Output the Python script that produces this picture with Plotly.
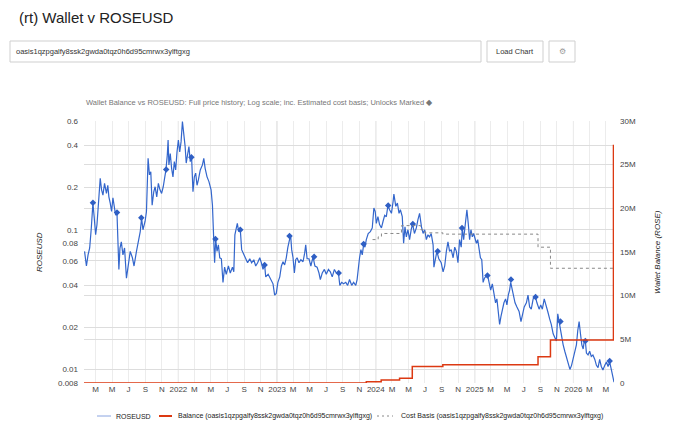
import math

import pandas as pd
import plotly.graph_objects as go

# ROSEUSD price (roughly every 5-7 days)
price_dates = [
    # 2021
    "2021-01-19", "2021-01-26", "2021-02-01", "2021-02-07", "2021-02-13", "2021-02-17", "2021-02-19", "2021-02-24", "2021-03-01", "2021-03-06",
    "2021-03-10", "2021-03-16", "2021-03-18", "2021-03-23", "2021-03-28", "2021-04-03", "2021-04-10", "2021-04-15", "2021-04-19", "2021-04-24",
    "2021-04-29", "2021-05-04", "2021-05-09", "2021-05-14", "2021-05-19", "2021-05-23", "2021-05-26", "2021-05-30", "2021-06-04", "2021-06-10",
    "2021-06-16", "2021-06-23", "2021-06-29", "2021-07-07", "2021-07-15", "2021-07-21", "2021-07-30", "2021-08-06", "2021-08-13", "2021-08-18",
    "2021-08-23", "2021-08-31", "2021-09-05", "2021-09-11", "2021-09-16", "2021-09-21", "2021-09-26", "2021-10-02", "2021-10-07", "2021-10-13",
    "2021-10-19", "2021-10-25", "2021-10-31", "2021-11-06", "2021-11-11", "2021-11-16", "2021-11-21", "2021-11-24", "2021-11-27", "2021-12-02",
    "2021-12-07", "2021-12-12", "2021-12-17", "2021-12-22", "2021-12-27",
    # 2022
    "2022-01-01", "2022-01-06", "2022-01-11", "2022-01-16", "2022-01-21", "2022-01-26", "2022-01-30", "2022-02-04", "2022-02-09", "2022-02-14",
    "2022-02-19", "2022-02-24", "2022-03-01", "2022-03-06", "2022-03-11", "2022-03-16", "2022-03-23", "2022-03-31", "2022-04-05", "2022-04-10",
    "2022-04-17", "2022-04-24", "2022-05-02", "2022-05-07", "2022-05-12", "2022-05-15", "2022-05-19", "2022-05-24", "2022-05-29", "2022-06-03",
    "2022-06-09", "2022-06-15", "2022-06-21", "2022-06-27", "2022-07-05", "2022-07-12", "2022-07-20", "2022-07-25", "2022-07-29", "2022-08-03",
    "2022-08-07", "2022-08-12", "2022-08-18", "2022-08-23", "2022-08-31", "2022-09-07", "2022-09-14", "2022-09-22", "2022-09-29", "2022-10-07",
    "2022-10-14", "2022-10-21", "2022-10-29", "2022-11-04", "2022-11-10", "2022-11-16", "2022-11-20", "2022-11-29", "2022-12-07", "2022-12-17",
    "2022-12-23", "2022-12-29",
    # 2023
    "2023-01-04", "2023-01-11", "2023-01-17", "2023-01-23", "2023-01-29", "2023-02-04", "2023-02-10", "2023-02-17", "2023-02-20", "2023-02-24",
    "2023-03-01", "2023-03-06", "2023-03-11", "2023-03-16", "2023-03-23", "2023-03-30", "2023-04-07", "2023-04-13", "2023-04-17", "2023-04-22",
    "2023-04-29", "2023-05-06", "2023-05-14", "2023-05-21", "2023-05-29", "2023-06-05", "2023-06-10", "2023-06-17", "2023-06-25", "2023-07-02",
    "2023-07-10", "2023-07-17", "2023-07-24", "2023-08-01", "2023-08-08", "2023-08-16", "2023-08-21", "2023-08-28", "2023-09-04", "2023-09-12",
    "2023-09-19", "2023-09-26", "2023-10-04", "2023-10-11", "2023-10-19", "2023-10-24", "2023-10-29", "2023-11-02", "2023-11-07", "2023-11-12",
    "2023-11-17", "2023-11-22", "2023-11-27", "2023-12-04", "2023-12-12", "2023-12-19", "2023-12-25", "2023-12-30",
    # 2024
    "2024-01-03", "2024-01-09", "2024-01-15", "2024-01-22", "2024-01-28", "2024-02-03", "2024-02-09", "2024-02-15", "2024-02-21", "2024-02-28",
    "2024-03-05", "2024-03-08", "2024-03-15", "2024-03-21", "2024-03-27", "2024-04-01", "2024-04-08", "2024-04-13", "2024-04-18", "2024-04-23",
    "2024-04-29", "2024-05-05", "2024-05-11", "2024-05-16", "2024-05-23", "2024-05-30", "2024-06-05", "2024-06-11", "2024-06-18", "2024-06-24",
    "2024-06-30", "2024-07-06", "2024-07-12", "2024-07-18", "2024-07-24", "2024-07-31", "2024-08-03", "2024-08-08", "2024-08-14", "2024-08-21",
    "2024-08-30", "2024-09-06", "2024-09-12", "2024-09-18", "2024-09-24", "2024-09-30", "2024-10-06", "2024-10-13", "2024-10-19", "2024-10-25",
    "2024-10-31", "2024-11-06", "2024-11-12", "2024-11-16", "2024-11-21", "2024-11-26", "2024-12-01", "2024-12-03", "2024-12-08", "2024-12-13",
    "2024-12-18", "2024-12-23", "2024-12-28",
    # 2025
    "2025-01-02", "2025-01-07", "2025-01-12", "2025-01-17", "2025-01-22", "2025-01-27", "2025-02-01", "2025-02-06", "2025-02-11", "2025-02-17",
    "2025-02-23", "2025-03-01", "2025-03-07", "2025-03-13", "2025-03-19", "2025-03-24", "2025-03-29", "2025-04-03", "2025-04-08", "2025-04-13",
    "2025-04-19", "2025-04-25", "2025-04-30", "2025-05-05", "2025-05-10", "2025-05-14", "2025-05-19", "2025-05-25", "2025-05-30", "2025-06-06",
    "2025-06-14", "2025-06-21", "2025-06-26", "2025-07-03", "2025-07-11", "2025-07-17", "2025-07-23", "2025-07-29", "2025-08-05", "2025-08-12",
    "2025-08-19", "2025-08-27", "2025-09-02", "2025-09-08", "2025-09-15", "2025-09-22", "2025-09-28", "2025-10-05", "2025-10-11", "2025-10-18",
    "2025-10-24", "2025-10-30", "2025-11-04", "2025-11-09", "2025-11-14", "2025-11-19", "2025-11-24", "2025-11-30", "2025-12-06", "2025-12-12",
    "2025-12-19", "2025-12-25", "2025-12-31",
    # 2026
    "2026-01-06", "2026-01-12", "2026-01-17", "2026-01-22", "2026-01-27", "2026-02-01", "2026-02-06", "2026-02-10", "2026-02-14", "2026-02-18",
    "2026-02-24", "2026-03-02", "2026-03-08", "2026-03-14", "2026-03-21", "2026-03-27", "2026-04-02", "2026-04-08", "2026-04-14", "2026-04-20",
    "2026-04-27", "2026-05-03", "2026-05-09", "2026-05-15", "2026-05-21", "2026-05-27", "2026-05-31",
]
price_usd = [
    # 2021
    0.070, 0.055, 0.066, 0.074, 0.103, 0.127, 0.155, 0.121, 0.092, 0.109,
    0.135, 0.187, 0.233, 0.193, 0.177, 0.215, 0.182, 0.208, 0.172, 0.155,
    0.135, 0.169, 0.150, 0.127, 0.131, 0.082, 0.052, 0.074, 0.082, 0.066,
    0.074, 0.045, 0.056, 0.070, 0.063, 0.055, 0.070, 0.082, 0.097, 0.121,
    0.100, 0.115, 0.135, 0.324, 0.247, 0.260, 0.150, 0.187, 0.203, 0.172,
    0.215, 0.193, 0.182, 0.203, 0.227, 0.268, 0.342, 0.439, 0.291, 0.351,
    0.275, 0.239, 0.307, 0.268, 0.361,
    # 2022
    0.439, 0.361, 0.427, 0.594, 0.490, 0.394, 0.300, 0.361, 0.394, 0.307,
    0.327, 0.187, 0.239, 0.254, 0.208, 0.227, 0.268, 0.291, 0.324, 0.275,
    0.239, 0.221, 0.193, 0.150, 0.087, 0.058, 0.085, 0.070, 0.078, 0.063,
    0.062, 0.042, 0.054, 0.048, 0.055, 0.049, 0.054, 0.050, 0.092, 0.103,
    0.111, 0.097, 0.100, 0.072, 0.066, 0.063, 0.058, 0.062, 0.058, 0.061,
    0.055, 0.058, 0.063, 0.058, 0.052, 0.056, 0.046, 0.048, 0.045, 0.041,
    0.034, 0.035,
    # 2023
    0.042, 0.046, 0.055, 0.059, 0.056, 0.063, 0.075, 0.085, 0.092, 0.072,
    0.063, 0.049, 0.061, 0.063, 0.058, 0.061, 0.059, 0.068, 0.078, 0.062,
    0.062, 0.055, 0.064, 0.055, 0.054, 0.049, 0.044, 0.049, 0.052, 0.048,
    0.052, 0.050, 0.046, 0.052, 0.049, 0.049, 0.040, 0.042, 0.041, 0.042,
    0.040, 0.044, 0.040, 0.042, 0.040, 0.044, 0.055, 0.063, 0.072, 0.066,
    0.078, 0.075, 0.085, 0.094, 0.097, 0.103, 0.143, 0.135,
    # 2024
    0.111, 0.124, 0.109, 0.103, 0.115, 0.127, 0.124, 0.149, 0.139, 0.131,
    0.159, 0.180, 0.147, 0.155, 0.131, 0.139, 0.124, 0.080, 0.105, 0.089,
    0.100, 0.085, 0.100, 0.110, 0.094, 0.103, 0.118, 0.131, 0.105, 0.094,
    0.100, 0.085, 0.092, 0.089, 0.094, 0.078, 0.054, 0.063, 0.070, 0.062,
    0.058, 0.050, 0.055, 0.070, 0.082, 0.070, 0.072, 0.063, 0.075, 0.070,
    0.058, 0.085, 0.075, 0.103, 0.085, 0.105, 0.124, 0.139, 0.111, 0.085,
    0.100, 0.089, 0.094,
    # 2025
    0.085, 0.080, 0.085, 0.072, 0.063, 0.061, 0.042, 0.045, 0.046, 0.048,
    0.042, 0.037, 0.041, 0.034, 0.030, 0.032, 0.027, 0.021, 0.024, 0.027,
    0.030, 0.032, 0.029, 0.034, 0.037, 0.042, 0.037, 0.034, 0.030, 0.028,
    0.026, 0.022, 0.025, 0.028, 0.030, 0.034, 0.028, 0.027, 0.032, 0.034,
    0.030, 0.027, 0.029, 0.027, 0.032, 0.029, 0.026, 0.023, 0.021, 0.018,
    0.017, 0.016, 0.025, 0.022, 0.019, 0.016, 0.015, 0.0135, 0.0124, 0.0110,
    0.0100, 0.0107, 0.0121,
    # 2026
    0.0131, 0.015, 0.019, 0.022, 0.018, 0.015, 0.014, 0.016, 0.016, 0.0131,
    0.0127, 0.0135, 0.0124, 0.0127, 0.0118, 0.0107, 0.0103, 0.0118, 0.0105, 0.0099,
    0.0107, 0.0113, 0.0105, 0.0113, 0.0100, 0.0090, 0.0081,
]
assert len(price_dates) == len(price_usd)

# unlock events marked on the price line
unlock_dates = [
    "2021-02-19", "2021-05-19", "2021-08-17", "2021-11-17", "2022-02-18", "2022-05-18",
    "2022-08-18", "2022-11-16", "2023-02-16", "2023-05-18", "2023-08-17", "2023-11-17",
    "2024-02-16", "2024-05-17", "2024-08-17", "2024-11-15", "2025-02-17", "2025-05-15",
    "2025-08-14", "2025-11-14", "2026-02-14", "2026-05-15",
]
unlock_price = [
    0.156, 0.133, 0.122, 0.270, 0.330, 0.086,
    0.100, 0.056, 0.090, 0.064, 0.049, 0.079,
    0.149, 0.110, 0.070, 0.103, 0.047, 0.044,
    0.033, 0.022, 0.016, 0.0115,
]

# wallet balance (ROSE), step changes
balance_dates = ["2021-01-17", "2023-11-27", "2024-01-21", "2024-03-29", "2024-05-15",
                 "2024-09-05", "2025-08-23", "2025-10-08", "2026-05-29", "2026-05-31"]
balance_rose = [0, 150000, 350000, 550000, 1880000,
                2100000, 3000000, 4930000, 27200000, 27200000]

# estimated cost basis (USD per ROSE)
cost_dates = ["2023-12-20", "2024-01-10", "2024-01-22", "2024-04-05", "2024-06-15",
              "2024-07-01", "2024-09-05", "2025-08-23", "2025-10-08", "2026-05-31"]
cost_usd = [0.085, 0.089, 0.094, 0.107, 0.100,
            0.095, 0.093, 0.075, 0.053, 0.053]

wallet = "oasis1qzpgalfy8ssk2gwda0tqz0h6d95cmrwx3ylftgxg"

left_ticks = [0.008, 0.01, 0.02, 0.04, 0.06, 0.08, 0.1, 0.2, 0.4, 0.6]
right_ticks = [0, 5e6, 10e6, 15e6, 20e6, 25e6, 30e6]
right_text = ["0", "5M", "10M", "15M", "20M", "25M", "30M"]

tick_dates = pd.date_range("2021-03-01", "2026-05-01", freq="2MS")
tick_text = [str(d.year) if d.month == 1 else d.strftime("%b")[0] for d in tick_dates]
year_starts = pd.date_range("2022-01-01", "2026-01-01", freq="YS")

BLUE, RED, GREY = "#3366cc", "#dc3912", "#888888"
FONT = "Liberation Sans, Arial, sans-serif"
W, H = 680, 442
PAGE = 8  # default body margin of the page plotly writes
# plot area as it appears on the screenshot
X0, X1, Y0, Y1 = 84, 614, 121, 383
PW, PH = X1 - X0, Y1 - Y0


def px(x):
    return (x - X0) / PW


def py(y):
    return (Y1 - y) / PH


fig = go.Figure()
fig.add_trace(go.Scatter(
    x=price_dates, y=price_usd, name="ROSEUSD", mode="lines",
    line=dict(color=BLUE, width=1.2), yaxis="y"))
fig.add_trace(go.Scatter(
    x=unlock_dates, y=unlock_price, mode="markers",
    marker=dict(symbol="diamond", size=5, color="#2f5fc4"), yaxis="y"))
fig.add_trace(go.Scatter(
    x=balance_dates, y=balance_rose, mode="lines",
    line=dict(color=RED, width=1.5, shape="hv"), yaxis="y2"))
fig.add_trace(go.Scatter(
    x=cost_dates, y=cost_usd, mode="lines",
    line=dict(color=GREY, width=1, dash="3px,3px", shape="hv"), yaxis="y"))

shapes = []
for d in year_starts:
    shapes.append(dict(type="line", xref="x", yref="paper", x0=d, x1=d, y0=0, y1=1,
                       line=dict(color="#cccccc", width=1), layer="between"))

# page chrome: address box and buttons
boxes = [(10, 41, 481, 62), (487, 41, 543, 62), (549, 41, 575, 62)]
for bx0, by0, bx1, by1 in boxes:
    shapes.append(dict(type="rect", xref="paper", yref="paper",
                       x0=px(bx0), x1=px(bx1), y0=py(by0), y1=py(by1),
                       line=dict(color="#cfcfcf", width=1), fillcolor="white"))

# legend drawn by hand so it stays on one row under the plot
legend_items = [
    ("ROSEUSD", "#8aa4e0", 1, "solid", 97, 111, 114),
    (f"Balance ({wallet})", RED, 2, "solid", 159, 172, 176),
    (f"Cost Basis ({wallet})", GREY, 1, "2px,3px", 377, 393, 399),
]
annotations = []
for label, colour, lw, dash, lx0, lx1, tx in legend_items:
    shapes.append(dict(type="line", xref="paper", yref="paper",
                       x0=px(lx0), x1=px(lx1), y0=py(416), y1=py(416),
                       line=dict(color=colour, width=lw, dash=dash)))
    annotations.append(dict(text=label, x=px(tx), y=py(416), xanchor="left", yanchor="middle",
                            font=dict(size=7, color="#222222")))

annotations += [
    dict(text="(rt) Wallet v ROSEUSD", x=px(17), y=py(18), xanchor="left", yanchor="middle",
         font=dict(size=15, color="#222222")),
    dict(text=wallet, x=px(14), y=py(51.5), xanchor="left", yanchor="middle",
         font=dict(size=7.5, color="#333333")),
    dict(text="Load Chart", x=px(515), y=py(51.5), xanchor="center", yanchor="middle",
         font=dict(size=7.5, color="#333333")),
    dict(text="⚙", x=px(562), y=py(51.5), xanchor="center", yanchor="middle",
         font=dict(size=8, color="#999999")),
    dict(text="Wallet Balance vs ROSEUSD: Full price history; Log scale; inc. Estimated cost basis; Unlocks Marked ◆",
         x=px(84), y=py(102), xanchor="left", yanchor="middle",
         font=dict(size=7.5, color="#777777")),
    dict(text="<i>ROSEUSD</i>", x=px(39), y=py(252), textangle=-90,
         xanchor="center", yanchor="middle", font=dict(size=8, color="#222222")),
    dict(text="<i>Wallet Balance (ROSE)</i>", x=px(657), y=py(252), textangle=-90,
         xanchor="center", yanchor="middle", font=dict(size=8, color="#222222")),
]
for a in annotations:
    a.update(xref="paper", yref="paper", showarrow=False)

fig.update_layout(
    width=W, height=H,
    margin=dict(l=X0 - PAGE, r=W - (X1 - PAGE), t=Y0 - PAGE, b=H - (Y1 - PAGE)),
    paper_bgcolor="white", plot_bgcolor="white",
    font=dict(family=FONT, size=8, color="#444444"),
    showlegend=False,
    shapes=shapes, annotations=annotations,
    xaxis=dict(type="date", range=["2021-01-17", "2026-05-31"],
               tickmode="array", tickvals=tick_dates, ticktext=tick_text,
               showgrid=True, gridcolor="#ececec", zeroline=False, showline=False,
               ticks="", tickfont=dict(size=8, color="#444444")),
    yaxis=dict(type="log", range=[math.log10(0.008), math.log10(0.6)],
               tickmode="array", tickvals=left_ticks, ticktext=[str(v) for v in left_ticks],
               showgrid=True, gridcolor="#dddddd", zeroline=False, showline=False,
               ticks="", ticklabelstandoff=5, tickfont=dict(size=8, color="#444444")),
    yaxis2=dict(overlaying="y", side="right", range=[0, 30e6],
                tickmode="array", tickvals=right_ticks, ticktext=right_text,
                showgrid=True, gridcolor="#dddddd", zeroline=False, showline=False,
                ticks="", ticklabelstandoff=5, tickfont=dict(size=8, color="#444444")),
)

fig.write_html("out.html")
